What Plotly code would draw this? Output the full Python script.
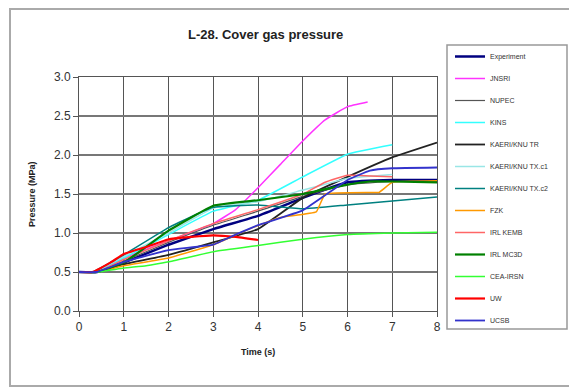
import plotly.graph_objects as go

# ---- data ----
names = ["Experiment", "JNSRI", "NUPEC", "KINS", "KAERI/KNU TR", "KAERI/KNU TX.c1",
         "KAERI/KNU TX.c2", "FZK", "IRL KEMB", "IRL MC3D", "CEA-IRSN", "UW", "UCSB"]

t_exp = [0, 0.4, 1, 2, 3, 4, 5, 6, 7, 8]
p_exp = [0.5, 0.5, 0.62, 0.85, 1.05, 1.22, 1.45, 1.65, 1.68, 1.68]

t_jns = [0, 0.4, 1, 2, 3, 3.5, 4, 4.5, 5, 5.5, 6, 6.45]
p_jns = [0.5, 0.5, 0.68, 0.9, 1.12, 1.3, 1.58, 1.88, 2.18, 2.45, 2.62, 2.68]

t_nup = [0, 0.4, 1, 2, 3, 4, 5, 6, 7, 8]
p_nup = [0.5, 0.5, 0.64, 0.88, 1.1, 1.28, 1.47, 1.62, 1.66, 1.66]

t_kins = [0, 0.4, 1, 2, 3, 4, 5, 6, 7]
p_kins = [0.5, 0.5, 0.68, 0.98, 1.28, 1.42, 1.72, 2.01, 2.13]

t_tr = [0, 0.4, 1, 2, 3, 4, 5, 6, 7, 8]
p_tr = [0.5, 0.5, 0.6, 0.72, 0.88, 1.05, 1.45, 1.72, 1.97, 2.16]

t_tx1 = [0, 0.3, 1, 2, 3, 4, 5, 6, 7]
p_tx1 = [0.5, 0.5, 0.7, 1.0, 1.32, 1.4, 1.55, 1.7, 1.75]

t_tx2 = [0, 0.3, 1, 2, 3, 4, 5, 6, 7, 8]
p_tx2 = [0.5, 0.5, 0.72, 1.07, 1.33, 1.36, 1.31, 1.36, 1.41, 1.46]

t_fzk = [0, 0.4, 1, 2, 3, 3.8, 4.5, 5.3, 5.5, 6.5, 6.7, 7.0, 8]
p_fzk = [0.5, 0.5, 0.58, 0.68, 0.85, 1.05, 1.2, 1.27, 1.5, 1.52, 1.52, 1.65, 1.67]

t_kemb = [0, 0.4, 1, 2, 3, 4, 5, 5.5, 6, 7]
p_kemb = [0.5, 0.5, 0.66, 0.9, 1.12, 1.3, 1.5, 1.65, 1.74, 1.72]

t_mc3d = [0, 0.4, 1, 2, 3, 4, 5, 6, 6.5, 7, 8]
p_mc3d = [0.5, 0.5, 0.62, 1.03, 1.35, 1.42, 1.5, 1.62, 1.66, 1.66, 1.65]

t_cea = [0, 0.4, 1, 1.5, 2, 3, 4, 5, 6, 7, 8]
p_cea = [0.5, 0.5, 0.55, 0.58, 0.63, 0.76, 0.84, 0.92, 0.98, 1.0, 1.01]

t_uw = [0, 0.3, 0.7, 1, 1.5, 2, 2.5, 3, 3.5, 4]
p_uw = [0.5, 0.5, 0.62, 0.73, 0.82, 0.92, 0.95, 0.97, 0.95, 0.91]

t_ucsb = [0, 0.4, 1, 2, 3, 3.5, 4, 5, 6, 6.5, 7, 8]
p_ucsb = [0.5, 0.5, 0.63, 0.78, 0.85, 0.98, 1.1, 1.29, 1.68, 1.8, 1.83, 1.84]

times = [t_exp, t_jns, t_nup, t_kins, t_tr, t_tx1, t_tx2, t_fzk, t_kemb, t_mc3d, t_cea, t_uw, t_ucsb]
press = [p_exp, p_jns, p_nup, p_kins, p_tr, p_tx1, p_tx2, p_fzk, p_kemb, p_mc3d, p_cea, p_uw, p_ucsb]
colors = ["#000080", "#FF33FF", "#555555", "#33FFFF", "#222222", "#99E6E6",
          "#008080", "#FF9900", "#FF6666", "#008000", "#33FF33", "#FF0000", "#3333CC"]
widths = [2.5, 1.5, 1.2, 1.5, 1.8, 1.5, 1.5, 1.5, 1.5, 2.2, 1.5, 2.2, 1.8]

x_ticks = [0, 1, 2, 3, 4, 5, 6, 7, 8]
y_ticks = [0.0, 0.5, 1.0, 1.5, 2.0, 2.5, 3.0]

fig = go.Figure()
for n, tx, py, c, w in zip(names, times, press, colors, widths):
    fig.add_trace(go.Scatter(x=tx, y=py, mode="lines", name=n, legendgroup=n,
                             line=dict(color=c, width=w, shape="spline", smoothing=0.3)))

W, H = 569, 388
L, R, T, B = 79, 132, 77, 77
pw, ph = W - L - R, H - T - B

def px(xpix):
    return (xpix - L) / pw

def py_(ypix):
    return (H - B - ypix) / ph

fig.update_layout(
    width=W, height=H,
    margin=dict(l=L, r=R, t=T, b=B, pad=0),
    paper_bgcolor="white", plot_bgcolor="white",
    font=dict(family="Liberation Sans, Arial", color="#222222"),
    showlegend=True,
    legend=dict(x=px(450), y=py_(42), xanchor="left", yanchor="top",
                bgcolor="rgba(0,0,0,0)", borderwidth=0, maxheight=400,
                font=dict(size=7, color="#333333"),
                tracegroupgap=3, traceorder="grouped", itemwidth=30),
    xaxis=dict(range=[0, 8], tickvals=x_ticks, showgrid=True, gridcolor="#555555", gridwidth=1,
               showline=True, linecolor="#555555", linewidth=1, mirror=True,
               ticks="outside", ticklen=5, tickcolor="#555555",
               tickfont=dict(size=12, color="#333333"), zeroline=False),
    yaxis=dict(range=[0, 3], tickvals=y_ticks, tickformat=".1f", showgrid=True,
               gridcolor="#777777", gridwidth=1.5,
               showline=True, linecolor="#555555", linewidth=1, mirror=True,
               ticks="outside", ticklen=5, tickcolor="#555555",
               tickfont=dict(size=12, color="#333333"), zeroline=False),
    shapes=[
        dict(type="rect", xref="paper", yref="paper", x0=px(10), x1=px(575), y0=py_(386), y1=py_(9),
             line=dict(color="#AAAAAA", width=2), fillcolor="rgba(0,0,0,0)", layer="below"),
        dict(type="rect", xref="paper", yref="paper", x0=px(447), x1=px(567), y0=py_(329), y1=py_(45),
             line=dict(color="#999999", width=1.5), fillcolor="rgba(0,0,0,0)", layer="below"),
    ],
    annotations=[
        dict(text="<b>L-28. Cover gas pressure</b>", xref="paper", yref="paper",
             x=px(265), y=py_(35), xanchor="center", yanchor="middle", showarrow=False,
             font=dict(size=13, color="#222222")),
        dict(text="<b>Time (s)</b>", xref="paper", yref="paper",
             x=px(258), y=py_(352), xanchor="center", yanchor="middle", showarrow=False,
             font=dict(size=9, color="#222222")),
        dict(text="<b>Pressure (MPa)</b>", xref="paper", yref="paper", textangle=-90,
             x=px(32), y=py_(194), xanchor="center", yanchor="middle", showarrow=False,
             font=dict(size=9, color="#222222")),
    ],
)

fig.write_html("out.html")
